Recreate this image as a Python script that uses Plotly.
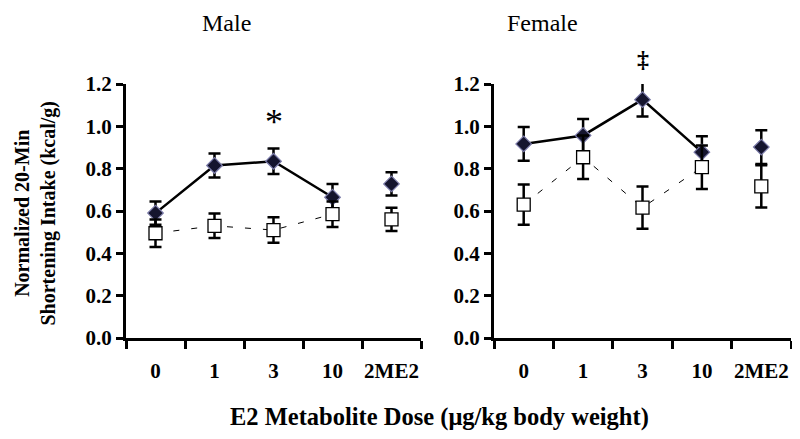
import plotly.graph_objects as go

doses = ["0", "1", "3", "10", "2ME2"]

# male group
male_e2 = [0.59, 0.815, 0.835, 0.665, 0.728]
male_e2_se = [0.055, 0.057, 0.06, 0.062, 0.055]
male_veh = [0.495, 0.53, 0.51, 0.585, 0.56]
male_veh_se = [0.065, 0.058, 0.06, 0.06, 0.055]

# female group
female_e2 = [0.917, 0.957, 1.126, 0.878, 0.902]
female_e2_se = [0.08, 0.078, 0.08, 0.075, 0.08]
female_veh = [0.63, 0.854, 0.616, 0.807, 0.716]
female_veh_se = [0.095, 0.103, 0.1, 0.103, 0.1]

FONT = "Liberation Serif, Times New Roman, serif"
# page body has an 8px margin, so the figure is a bit smaller than the window
OFF = 8
W, H = 800 - OFF, 439 - OFF


def px(x):
    return (x - OFF) / W


def py(y):
    return 1 - (y - OFF) / H


fig = go.Figure()


def add_panel(xa, ya, e2, e2_se, veh, veh_se):
    # lines only connect the dose series, 2ME2 stands apart
    fig.add_trace(go.Scatter(x=doses[:4], y=e2[:4], mode="lines",
                             line=dict(color="black", width=2.5),
                             xaxis=xa, yaxis=ya, hoverinfo="skip"))
    fig.add_trace(go.Scatter(x=doses, y=e2, mode="markers",
                             marker=dict(symbol="diamond", size=12, color="#15152e",
                                         line=dict(color="#7a7aa8", width=1.2)),
                             error_y=dict(type="data", array=e2_se, color="black",
                                          thickness=2.5, width=6),
                             xaxis=xa, yaxis=ya, cliponaxis=False))
    fig.add_trace(go.Scatter(x=doses[:4], y=veh[:4], mode="lines",
                             line=dict(color="black", width=1, dash="6px,12px"),
                             xaxis=xa, yaxis=ya, hoverinfo="skip"))
    fig.add_trace(go.Scatter(x=doses, y=veh, mode="markers",
                             marker=dict(symbol="square", size=13, color="white",
                                         line=dict(color="black", width=1.3)),
                             error_y=dict(type="data", array=veh_se, color="black",
                                          thickness=2.5, width=6),
                             xaxis=xa, yaxis=ya, cliponaxis=False))


add_panel("x", "y", male_e2, male_e2_se, male_veh, male_veh_se)
add_panel("x2", "y2", female_e2, female_e2_se, female_veh, female_veh_se)

ydom = [py(338), py(84)]
xcommon = dict(type="category", range=[-0.5, 4.5], showline=True, linewidth=3,
               linecolor="black", ticks="outside", tickson="boundaries",
               ticklen=8, tickwidth=3, tickcolor="black", showgrid=False,
               zeroline=False, tickangle=0, automargin=False, ticklabelstandoff=12,
               tickfont=dict(family=FONT, size=21, color="black", weight="bold"))
ycommon = dict(range=[0, 1.2], dtick=0.2, tickformat=".1f", showline=True,
               linewidth=3, linecolor="black", ticks="outside", ticklen=7,
               tickwidth=3, tickcolor="black", showgrid=False, zeroline=False,
               domain=ydom, automargin=False,
               tickfont=dict(family=FONT, size=21, color="black", weight="bold"))

fig.update_layout(
    template="none",
    width=W, height=H,
    margin=dict(l=0, r=0, t=0, b=0),
    plot_bgcolor="white", paper_bgcolor="white",
    showlegend=False,
    xaxis=dict(xcommon, domain=[px(126), px(421)], anchor="y"),
    yaxis=dict(ycommon, anchor="x"),
    xaxis2=dict(xcommon, domain=[px(494), px(791)], anchor="y2"),
    yaxis2=dict(ycommon, anchor="x2"),
)

ann = dict(showarrow=False, font=dict(family=FONT, color="black"))
fig.add_annotation(ann, text="Male", x=px(200), y=1, xref="paper", yref="paper",
                   yanchor="top", font=dict(family=FONT, size=24, color="black"))
fig.add_annotation(ann, text="Female", x=px(580), y=1, xref="paper", yref="paper",
                   yanchor="top", font=dict(family=FONT, size=24, color="black"))
fig.add_annotation(ann, text="*", x=2, y=1.02, xref="x", yref="y",
                   font=dict(family=FONT, size=36, color="black"))
fig.add_annotation(ann, text="‡", x=2, y=1.1, xref="x2", yref="y2 domain",
                   yanchor="middle",
                   font=dict(family=FONT, size=24, color="black", weight="bold"))
fig.add_annotation(ann, text="<b>E2 Metabolite Dose (μg/kg body weight)</b>",
                   x=px(439), y=py(417), xref="paper", yref="paper",
                   yanchor="middle", font=dict(family=FONT, size=24.5, color="black"))
fig.add_annotation(ann, text="<b>Normalized 20-Min<br>Shortening Intake (kcal/g)</b>",
                   x=0, y=py(214), xref="paper", yref="paper", textangle=-90,
                   yanchor="middle", xanchor="left",
                   font=dict(family=FONT, size=20, color="black"))

fig.write_html("out.html")
